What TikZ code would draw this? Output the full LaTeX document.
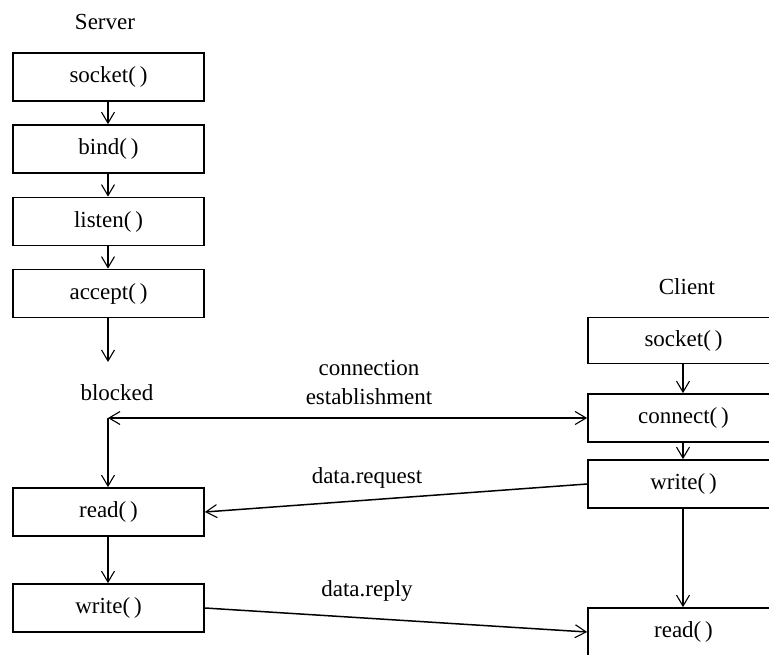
\documentclass[tikz,border=0pt]{standalone}
\usepackage{fontspec}
\setmainfont{Liberation Serif}
\usetikzlibrary{arrows.meta}
\begin{document}
\begin{tikzpicture}[x=1pt,y=-1pt,
  every node/.style={font=\fontsize{23}{29}\selectfont},
  callbox/.style={draw,line width=1.7pt,minimum width=191pt,minimum height=48pt,inner sep=0pt},
  lbl/.style={inner sep=0pt,align=center},
  flow/.style={line width=1.5pt,-{Straight Barb[length=11pt,width=13pt,line width=1.1pt]}},
  flowboth/.style={line width=1.5pt,{Straight Barb[length=11pt,width=13pt,line width=1.1pt]}-{Straight Barb[length=11pt,width=13pt,line width=1.1pt]}}]
\fill[white] (0,0) rectangle (769,655);
\useasboundingbox (0,0) rectangle (769,655);
\clip (0,0) rectangle (769,655);

% server side
\node[lbl] (srvlabel) at (105,22) {Server};
\node[callbox] (ssocket) at (108.5,77) {socket(\,)};
\node[callbox] (sbind)   at (108.5,149) {bind(\,)};
\node[callbox] (slisten) at (108.5,221.5) {listen(\,)};
\node[callbox] (saccept) at (108.5,293.5) {accept(\,)};
\node[lbl] (blocked) at (117,393) {blocked};
\coordinate (bk) at (108,362);
\coordinate (corner) at (108,418);
\node[callbox] (sread)  at (108.5,512) {read(\,)};
\node[callbox] (swrite) at (108.5,608) {write(\,)};

% client side
\node[lbl] (clilabel) at (687,287) {Client};
\node[callbox,minimum height=46pt] (csocket) at (683.5,340.5) {socket(\,)};
\node[callbox] (cconnect) at (683.5,418) {connect(\,)};
\node[callbox] (cwrite)   at (683.5,484) {write(\,)};
\node[callbox] (cread)    at (683.5,632) {read(\,)};

% server flow
\draw[flow] (ssocket.south -| bk) -- (sbind.north -| bk);
\draw[flow] (sbind.south -| bk) -- (slisten.north -| bk);
\draw[flow] (slisten.south -| bk) -- (saccept.north -| bk);
\draw[flow] (saccept.south -| bk) -- (bk);
\draw[flow] (corner) -- (sread.north -| corner);
\draw[flow] (sread.south -| corner) -- (swrite.north -| corner);

% client flow
\draw[flow] (csocket.south -| 683,0) -- (cconnect.north -| 683,0);
\draw[flow] (cconnect.south -| 683,0) -- (cwrite.north -| 683,0);
\draw[flow] (cwrite.south -| 683,0) -- (cread.north -| 683,0);

% messages between the two sides
\draw[flowboth] (corner) -- (cconnect.west);
\node[lbl] (conn) at (369,382) {connection\\establishment};
\draw[flow] (cwrite.west) -- (sread.east);
\node[lbl] (dreq) at (367,478) {data.request};
\draw[flow] (swrite.east) -- (cread.west);
\node[lbl] (drep) at (367,591) {data.reply};
\end{tikzpicture}
\end{document}
